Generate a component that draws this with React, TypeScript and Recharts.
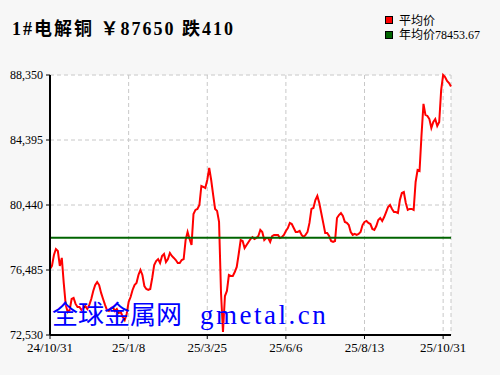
import { LineChart, Line, XAxis, YAxis, CartesianGrid, ReferenceLine } from "recharts"

// daily average price (one point per ~2px)
const prices = [
  76550, 76730, 77400, 77760, 77640, 76730, 77220, 75690, 74360, 73930,
  74050, 74720, 74780, 74420, 74230, 74230, 74050, 74170, 74290, 74110,
  74360, 74720, 75210, 75570, 75750, 75570, 75090, 74720, 74360, 74050,
  73990, 74170, 74230, 73990, 74110, 73870, 73930, 73630, 73440, 73810,
  74540, 74840, 75270, 75570, 75690, 76180, 76490, 76180, 75510, 75330,
  75270, 75330, 76000, 76790, 77030, 77150, 76910, 77340, 77460, 76970,
  77150, 77520, 77340, 77220, 77090, 76910, 76910, 77090, 77150, 78310,
  78800, 78370, 78010, 79890, 80140, 80200, 80440, 81600, 81540, 81470,
  81960, 82690, 81960, 81050, 80200, 80080, 79410, 75090, 72710, 74900,
  75210, 76180, 76120, 76120, 76360, 76670, 77460, 78310, 78250, 77820,
  78010, 78190, 78370, 78490, 78370, 78430, 78550, 78920, 78800, 78310,
  78430, 78430, 78190, 78550, 78620, 78620, 78620, 78430, 78490, 78620,
  78860, 79040, 79350, 79280, 79040, 78800, 78800, 78860, 78620, 78490,
  78620, 78800, 79350, 80200, 80260, 80740, 80990, 80560, 79950, 79350,
  78740, 78740, 78550, 78250, 78190, 78250, 79650, 79830, 79950, 79770,
  79410, 79350, 79220, 78800, 78620, 78680, 78620, 78680, 78800, 79220,
  79410, 79470, 79350, 79280, 78980, 78920, 79160, 79530, 79650, 79470,
  79710, 80010, 80320, 80440, 80200, 80010, 80010, 79950, 80740, 81170,
  81230, 80560, 80140, 80200, 80200, 80140, 81840, 82570, 82510, 84700,
  86590, 85920, 85860, 85670, 85130, 85490, 85670, 85250, 85490, 87440,
  88350, 88230, 87990, 87860, 87650,
]

const dateLabels = ["24/10/31", "25/1/8", "25/3/25", "25/6/6", "25/8/13", "25/10/31"]
const dateIdx = [0, 40, 80, 120, 160, 200]
const yTicks = [72530, 76485, 80440, 84395, 88350]
const yearAvg = 78453.67

const data = prices.map((p, i) => ({ i, p }))

const cjk = "'Noto Sans CJK SC'"

export default function App() {
  return (
    <div style={{ position: "absolute", left: 0, top: 0, width: 500, height: 375, background: "#f7f7f7" }}>
      <div
        style={{
          position: "absolute", left: 12, top: 19, lineHeight: "20px", fontSize: 18, fontWeight: "bold",
          letterSpacing: 2, fontFamily: `'Liberation Serif', ${cjk}`, color: "#000", whiteSpace: "pre",
        }}
      >
        1#电解铜 ￥87650 跌410
      </div>

      <div style={{ position: "absolute", left: 385, top: 16, width: 6, height: 6, background: "#ff0000", border: "1px solid #000" }} />
      <div style={{ position: "absolute", left: 399, top: 13, lineHeight: "14px", fontSize: 12, fontFamily: cjk, color: "#000" }}>平均价</div>
      <div style={{ position: "absolute", left: 385, top: 31, width: 6, height: 6, background: "#006400", border: "1px solid #000" }} />
      <div style={{ position: "absolute", left: 399, top: 28, lineHeight: "14px", fontSize: 12, fontFamily: `'Liberation Serif', ${cjk}`, color: "#000" }}>年均价78453.67</div>

      <LineChart width={500} height={375} data={data} margin={{ top: 75, right: 49, bottom: 10, left: 0 }}>
        <CartesianGrid stroke="#c8c8c8" strokeDasharray="4 3" fill="#ffffff" />
        <XAxis
          dataKey="i"
          type="number"
          domain={[0, prices.length - 1]}
          ticks={dateIdx}
          tickFormatter={(v) => dateLabels[dateIdx.indexOf(v)]}
          height={30}
          axisLine={{ stroke: "#000", strokeWidth: 2 }}
          tickLine={{ stroke: "#000" }}
          tickSize={4}
          tickMargin={4}
          tick={{ fill: "#000", fontSize: 13, fontFamily: "Liberation Serif" }}
        />
        <YAxis
          domain={[72530, 88350]}
          ticks={yTicks}
          tickFormatter={(v) => v.toLocaleString("en-US")}
          width={50}
          axisLine={{ stroke: "#000", strokeWidth: 2 }}
          tickLine={{ stroke: "#000" }}
          tickSize={4}
          tickMargin={3}
          tick={{ fill: "#000", fontSize: 12, fontFamily: "Liberation Serif" }}
        />
        <Line type="linear" dataKey="p" stroke="#ff0000" strokeWidth={2} dot={false} isAnimationActive={false} />
        <ReferenceLine y={yearAvg} stroke="#006400" strokeWidth={2} />
      </LineChart>

      <div style={{ position: "absolute", left: 52, top: 296, lineHeight: "34px", color: "#0000ff", whiteSpace: "pre", pointerEvents: "none" }}>
        <span style={{ fontFamily: cjk, fontSize: 26 }}>全球金属网</span>
        <span style={{ fontFamily: "'Liberation Serif'", fontSize: 27, letterSpacing: 2.5, marginLeft: 18 }}>gmetal.cn</span>
      </div>
    </div>
  )
}
